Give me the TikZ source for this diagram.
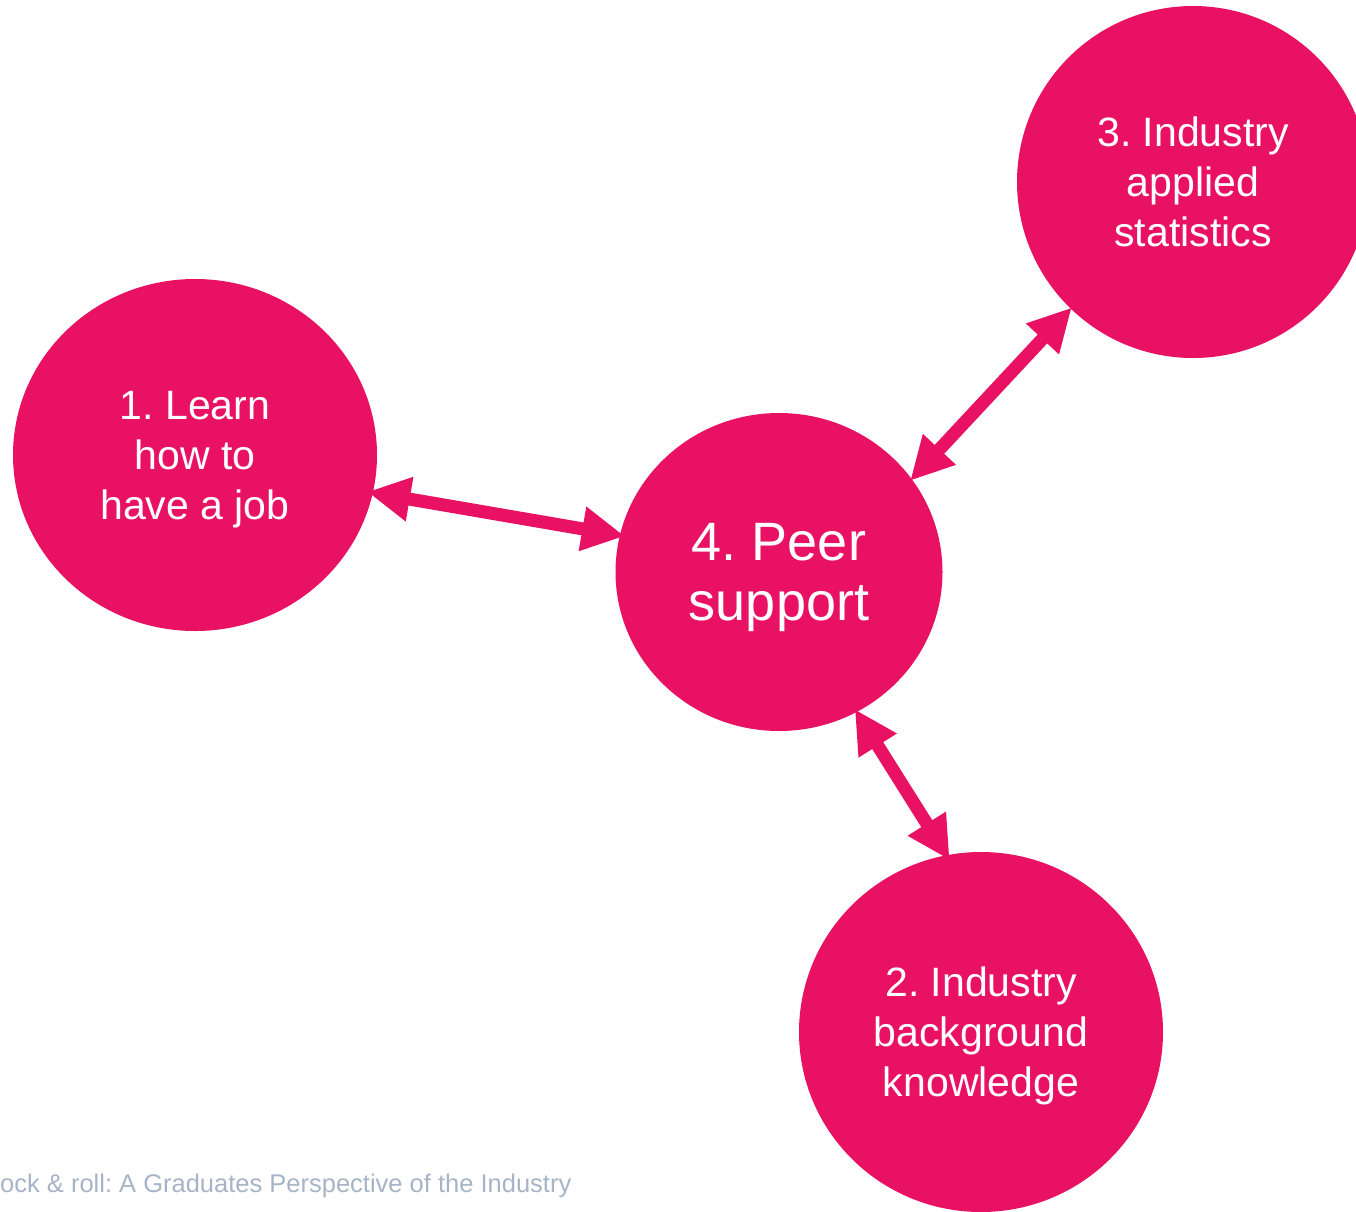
\documentclass[tikz,border=0pt]{standalone}
\usepackage{fontspec}
\setmainfont{Liberation Sans}
\frenchspacing
\usetikzlibrary{shapes.geometric,arrows.meta}
\definecolor{hotpink}{HTML}{E91163}
\definecolor{footgray}{HTML}{A7B4C7}
\tikzset{
  bubble/.style={ellipse, fill=hotpink, draw=none, inner sep=0pt, outer sep=0pt,
    text=white, align=center, text depth=0pt, font=\fontsize{41}{50}\selectfont},
  bigarrow/.style={draw=hotpink, line width=13pt,
    {Triangle[length=43pt,width=42pt]}-{Triangle[length=43pt,width=42pt]}},
}
\begin{document}
\begin{tikzpicture}[x=1pt,y=-1pt]
\useasboundingbox (0,0) rectangle (1356,1211);
\fill[white] (0,0) rectangle (1356,1211);
\node[bubble, minimum width=364pt, minimum height=352pt] (c1) at (195,455) {1. Learn\\how to\\have a job};
\node[bubble, minimum width=327pt, minimum height=318pt, font=\fontsize{54}{60}\selectfont] (c4) at (779,572) {4. Peer\\support};
\node[bubble, minimum width=352pt, minimum height=352pt] (c3) at (1193,182) {3. Industry\\applied\\statistics};
\node[bubble, minimum width=364pt, minimum height=360pt] (c2) at (981,1032) {2. Industry\\background\\knowledge};
\draw[bigarrow, shorten <=-5.6pt, shorten >=-5pt] (c1.-12.3) -- (c4.167);
\draw[bigarrow, shorten <=-1.5pt, shorten >=-2.3pt] (c3.-134.8) -- (c4.35.3);
\draw[bigarrow, shorten <=-3.3pt, shorten >=-5.7pt] (c4.-61.1) -- (c2.101.8);
\node[anchor=base west, text=footgray, font=\fontsize{25.5}{30}\selectfont, inner sep=0pt] (foot) at (0,1192) {ock \& roll: A Graduates Perspective of the Industry};
\end{tikzpicture}
\end{document}
